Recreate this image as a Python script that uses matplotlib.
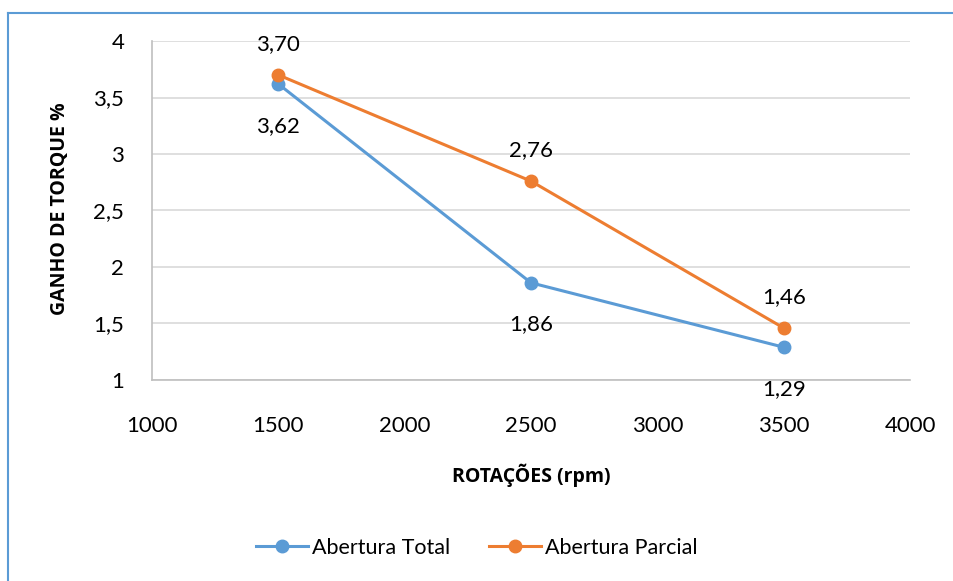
import matplotlib
matplotlib.use("Agg")
import matplotlib.pyplot as plt
from matplotlib.lines import Line2D

# ganho de torque por rotação
rotacoes = [1500, 2500, 3500]
abertura_total = [3.62, 1.86, 1.29]
abertura_parcial = [3.70, 2.76, 1.46]

cor_total = '#5B9BD5'
cor_parcial = '#ED7D31'

plt.rcParams['font.family'] = ['Lato', 'DejaVu Sans']
fonte_titulo = ['Open Sans', 'DejaVu Sans']

fig = plt.figure(figsize=(9.54, 5.81), dpi=100)
ax = fig.add_axes([0.1593, 0.346, 0.7946, 0.5834])

ax.plot(rotacoes, abertura_total, color=cor_total, lw=2.2, marker='o', ms=9,
        label='Abertura Total', zorder=3)
ax.plot(rotacoes, abertura_parcial, color=cor_parcial, lw=2.2, marker='o', ms=9,
        label='Abertura Parcial', zorder=4)

def fmt(v):
    return ('%.2f' % v).replace('.', ',')

for x, y in zip(rotacoes, abertura_total):
    ax.annotate(fmt(y), (x, y), xytext=(0, -30), textcoords='offset points',
                ha='center', va='center', fontsize=16, annotation_clip=False)
for x, y in zip(rotacoes, abertura_parcial):
    ax.annotate(fmt(y), (x, y), xytext=(0, 22), textcoords='offset points',
                ha='center', va='center', fontsize=16, annotation_clip=False)

ax.set_xlim(1000, 4000)
ax.set_ylim(1, 4)
ax.set_xticks(range(1000, 4001, 500))
ax.set_yticks([1, 1.5, 2, 2.5, 3, 3.5, 4])
ax.set_yticklabels(['1', '1,5', '2', '2,5', '3', '3,5', '4'])
ax.tick_params(axis='both', length=0, labelsize=16)
ax.tick_params(axis='y', pad=20)
ax.tick_params(axis='x', pad=26)
ax.grid(axis='y', color='#D9D9D9', lw=1.2)
for s in ['top', 'right']:
    ax.spines[s].set_visible(False)
for s in ['left', 'bottom']:
    ax.spines[s].set_color('#BFBFBF')
    ax.spines[s].set_linewidth(1.2)

ax.set_xlabel('ROTAÇÕES (rpm)', fontsize=14, fontweight='bold', family=fonte_titulo,
              labelpad=20)
fig.text(0.063, 1 - 209 / 581, 'GANHO DE TORQUE %', rotation=90, fontsize=14,
         fontweight='bold', family=fonte_titulo, ha='center', va='center')

ax.legend(loc='center', bbox_to_anchor=(0.5, 1 - 548 / 581), bbox_transform=fig.transFigure,
          ncol=2, frameon=False, fontsize=15.5, handlelength=2.4, columnspacing=1.8,
          handletextpad=0.2)

# contorno da área do gráfico
fig.add_artist(Line2D([8 / 954, 8 / 954], [0, 1 - 12.5 / 581], color='#5B9BD5', lw=1.5,
                      transform=fig.transFigure))
fig.add_artist(Line2D([8 / 954, 1], [1 - 12.5 / 581, 1 - 12.5 / 581], color='#5B9BD5', lw=1.5,
                      transform=fig.transFigure))

fig.savefig('out.png', dpi=100)
